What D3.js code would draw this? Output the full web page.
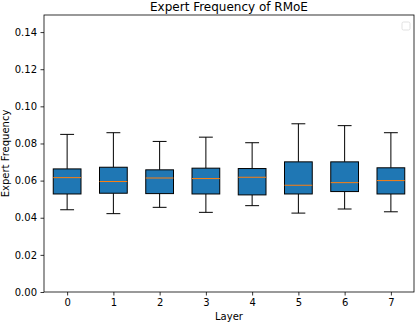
<!DOCTYPE html>
<html>
<head>
<meta charset="utf-8">
<script src="https://cdn.jsdelivr.net/npm/d3@7"></script>
<style>
  body { margin: 0; background: #fff; }
  svg { display: block; font-family: "DejaVu Sans", sans-serif; }
</style>
</head>
<body>
<script>
// per-layer box stats
var layers = [0, 1, 2, 3, 4, 5, 6, 7];
var whiskerLow  = [0.0443, 0.0422, 0.0456, 0.0429, 0.0465, 0.0425, 0.0447, 0.0432];
var q1          = [0.0528, 0.0532, 0.0530, 0.0528, 0.0523, 0.0528, 0.0541, 0.0528];
var median      = [0.0616, 0.0595, 0.0614, 0.0611, 0.0618, 0.0575, 0.0589, 0.0600];
var q3          = [0.0663, 0.0672, 0.0658, 0.0667, 0.0665, 0.0701, 0.0701, 0.0669];
var whiskerHigh = [0.0849, 0.0858, 0.0811, 0.0834, 0.0804, 0.0906, 0.0896, 0.0858];
var yTicks = [0, 0.02, 0.04, 0.06, 0.08, 0.10, 0.12, 0.14];

var W = 415, H = 324;
var margin = { top: 15, right: 1, bottom: 32, left: 44 };
var width = W - margin.left - margin.right,
    height = H - margin.top - margin.bottom;

var svg = d3.select("body").append("svg")
    .attr("width", W)
    .attr("height", H);

var g = svg.append("g")
    .attr("transform", "translate(" + margin.left + "," + margin.top + ")");

var x = d3.scaleLinear().domain([-0.5, 7.5]).range([0, width]);
var y = d3.scaleLinear().domain([0, 0.1492]).range([height, 0]);

var boxW = (x(1) - x(0)) * 0.6;

var data = layers.map(function (l, i) {
    return { layer: l, lo: whiskerLow[i], q1: q1[i], med: median[i], q3: q3[i], hi: whiskerHigh[i] };
});

var box = g.selectAll(".box")
    .data(data)
    .enter().append("g")
    .attr("class", "box");

// whiskers
box.append("line")
    .attr("x1", function (d) { return x(d.layer); })
    .attr("x2", function (d) { return x(d.layer); })
    .attr("y1", function (d) { return y(d.q3); })
    .attr("y2", function (d) { return y(d.hi); })
    .attr("stroke", "#000").attr("stroke-width", 1);
box.append("line")
    .attr("x1", function (d) { return x(d.layer); })
    .attr("x2", function (d) { return x(d.layer); })
    .attr("y1", function (d) { return y(d.q1); })
    .attr("y2", function (d) { return y(d.lo); })
    .attr("stroke", "#000").attr("stroke-width", 1);
// caps
box.append("line")
    .attr("x1", function (d) { return x(d.layer) - boxW / 4; })
    .attr("x2", function (d) { return x(d.layer) + boxW / 4; })
    .attr("y1", function (d) { return y(d.hi); })
    .attr("y2", function (d) { return y(d.hi); })
    .attr("stroke", "#000").attr("stroke-width", 1);
box.append("line")
    .attr("x1", function (d) { return x(d.layer) - boxW / 4; })
    .attr("x2", function (d) { return x(d.layer) + boxW / 4; })
    .attr("y1", function (d) { return y(d.lo); })
    .attr("y2", function (d) { return y(d.lo); })
    .attr("stroke", "#000").attr("stroke-width", 1);
// box
box.append("rect")
    .attr("x", function (d) { return x(d.layer) - boxW / 2; })
    .attr("y", function (d) { return y(d.q3); })
    .attr("width", boxW)
    .attr("height", function (d) { return y(d.q1) - y(d.q3); })
    .attr("fill", "#1f77b4")
    .attr("stroke", "#000").attr("stroke-width", 1);
// median
box.append("line")
    .attr("x1", function (d) { return x(d.layer) - boxW / 2; })
    .attr("x2", function (d) { return x(d.layer) + boxW / 2; })
    .attr("y1", function (d) { return y(d.med); })
    .attr("y2", function (d) { return y(d.med); })
    .attr("stroke", "#ff7f0e").attr("stroke-width", 1);

// axes
var xAxis = g.append("g")
    .attr("transform", "translate(0," + height + ")")
    .call(d3.axisBottom(x).tickValues(layers).tickFormat(d3.format("d")).tickSize(3.5).tickPadding(3.5));
var yAxis = g.append("g")
    .call(d3.axisLeft(y).tickValues(yTicks).tickFormat(d3.format(".2f")).tickSize(3.5).tickPadding(3.5));
[xAxis, yAxis].forEach(function (a) {
    a.selectAll("text").attr("font-size", 10).attr("font-family", "DejaVu Sans").attr("fill", "#000");
    a.selectAll("line").attr("stroke", "#000").attr("stroke-width", 0.8);
    a.select(".domain").remove();
});

// spines
g.append("rect")
    .attr("x", 0).attr("y", 0)
    .attr("width", width).attr("height", height)
    .attr("fill", "none").attr("stroke", "#000").attr("stroke-width", 0.8);

// empty legend
g.append("rect")
    .attr("x", width - 12).attr("y", 7)
    .attr("width", 8).attr("height", 8)
    .attr("rx", 1.5)
    .attr("fill", "#fff").attr("stroke", "#d9d9d9").attr("stroke-width", 0.8);

// labels
svg.append("text")
    .attr("x", margin.left + width / 2).attr("y", 11)
    .attr("text-anchor", "middle").attr("font-size", 12)
    .text("Expert Frequency of RMoE");
svg.append("text")
    .attr("x", margin.left + width / 2).attr("y", H - 4)
    .attr("text-anchor", "middle").attr("font-size", 10)
    .text("Layer");
svg.append("text")
    .attr("transform", "translate(9," + (margin.top + height / 2) + ") rotate(-90)")
    .attr("text-anchor", "middle").attr("font-size", 10)
    .text("Expert Frequency");
</script>
</body>
</html>
